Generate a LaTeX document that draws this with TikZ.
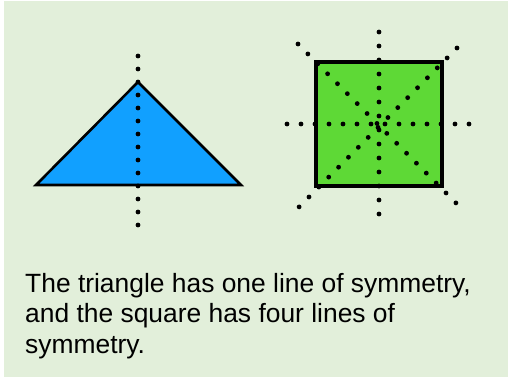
\documentclass[tikz,border=0pt]{standalone}
\usepackage{fontspec}
\setmainfont{Liberation Sans}
\usepackage{xcolor}
\usepackage{tikz}
\usetikzlibrary{positioning}
\definecolor{bggreen}{RGB}{226,239,218}
\definecolor{triblue}{RGB}{17,160,255}
\definecolor{sqgreen}{RGB}{94,217,54}

\begin{document}
\begin{tikzpicture}[x=1pt,y=-1pt,
            shapeline/.style={draw=black,line join=miter},
            dotline/.style={line width=4.8pt,line cap=round,dash pattern=on 0pt off #1,shorten >=-1.5pt},
            dotline/.default=14pt,
            caption/.style={anchor=base west,inner sep=0pt,align=left,font=\fontsize{26.4}{30.5}\selectfont}]
            \useasboundingbox (0,0) rectangle (510,380);
            \fill[bggreen] (4,1) rectangle (508,377);
            % triangle and its line
            \coordinate (tl) at (36,185);
            \coordinate (tt) at (138,82);
            \coordinate (tr) at (241,185);
            \coordinate (tv1) at (138,56);
            \coordinate (tv2) at (138,225);
            \draw[shapeline,line width=2.6pt,fill=triblue] (tl)--(tt)--(tr)--cycle;
            \draw[dotline=13pt] (tv1)--(tv2);
            % square and its four lines
            \coordinate (sq1) at (316,62);
            \coordinate (sq2) at (442,186);
            \coordinate (sv1) at (379,32);
            \coordinate (sv2) at (379,214);
            \coordinate (sh1) at (287,124);
            \coordinate (sh2) at (469,124);
            \coordinate (sd1) at (298,44);
            \coordinate (sd2) at (456,203);
            \coordinate (sd3) at (457,48);
            \coordinate (sd4) at (299,207);
            \draw[shapeline,line width=4pt,fill=sqgreen] (sq1) rectangle (sq2);
            \draw[dotline] (sv1)--(sv2);
            \draw[dotline] (sh1)--(sh2);
            \draw[dotline] (sd1)--(sd2);
            \draw[dotline] (sd3)--(sd4);
            % caption
            \node[caption] (cap) at (25,353) {The triangle has one line of symmetry,\\and the square has four lines of\\symmetry.};
        \end{tikzpicture}
\end{document}
